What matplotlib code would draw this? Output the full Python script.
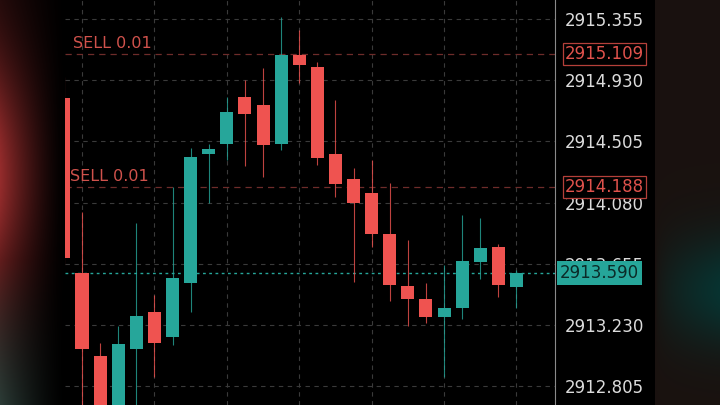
import numpy as np
import matplotlib
matplotlib.use("Agg")
import matplotlib.pyplot as plt

# candle data (index -1 is the one cut by the left edge)
idx = np.arange(-1, 25)
opens = [2914.806, 2913.591, 2913.015, 2912.650, 2913.063, 2913.320, 2913.147, 2913.522,
         2914.417, 2914.487, 2914.813, 2914.758, 2914.487, 2915.105, 2915.022, 2914.417,
         2914.244, 2914.147, 2913.862, 2913.501, 2913.411, 2913.286, 2913.348, 2913.667,
         2913.772, 2913.494]
closes = [2913.695, 2913.063, 2912.650, 2913.098, 2913.293, 2913.105, 2913.556, 2914.397,
          2914.452, 2914.709, 2914.695, 2914.480, 2915.105, 2915.036, 2914.390, 2914.209,
          2914.077, 2913.862, 2913.508, 2913.411, 2913.286, 2913.348, 2913.674, 2913.765,
          2913.508, 2913.591]
highs = [2914.950, 2914.015, 2913.105, 2913.223, 2913.938, 2913.438, 2914.188, 2914.459,
         2914.487, 2914.813, 2914.931, 2915.015, 2915.369, 2915.279, 2915.056, 2914.792,
         2914.320, 2914.376, 2914.216, 2913.820, 2913.522, 2913.647, 2913.994, 2913.973,
         2913.790, 2913.612]
lows = [2913.647, 2912.600, 2912.600, 2912.600, 2912.620, 2912.869, 2913.090, 2913.320,
        2914.077, 2914.376, 2914.334, 2914.258, 2914.445, 2914.911, 2914.341, 2914.119,
        2913.529, 2913.772, 2913.397, 2913.223, 2913.244, 2912.869, 2913.272, 2913.549,
        2913.424, 2913.348]

tick_prices = [2915.355, 2914.930, 2914.505, 2914.080, 2913.655, 2913.230, 2912.805]
sell_prices = [2915.109, 2914.188]
sell_label = "SELL 0.01"
last_price = 2913.590

GREEN = '#26a69a'
RED = '#ef5350'

W, H = 720, 405
fig = plt.figure(figsize=(W / 100, H / 100), dpi=100, facecolor='black')

# background: blurred phone frame left and right
bg = fig.add_axes([0, 0, 1, 1])
bg.set_axis_off()
xx, yy = np.meshgrid(np.arange(W), np.arange(H))
img = np.zeros((H, W, 3))
# left red glow
fade = np.clip(1 - xx / 65.0, 0, 1) ** 1.4
glow = np.exp(-((yy - 175) / 115.0) ** 2)
img[..., 0] += fade * (0.10 + 0.48 * glow)
img[..., 1] += fade * (0.03 + 0.14 * glow)
img[..., 2] += fade * (0.03 + 0.14 * glow)
gray = fade * np.clip((yy - 260) / 145.0, 0, 1)
img[..., 0] += gray * 0.06
img[..., 1] += gray * 0.20
img[..., 2] += gray * 0.18
# right dark teal glow
right = (xx >= 655).astype(float)
rfade = np.clip((xx - 655) / 65.0, 0, 1) ** 0.6
tglow = np.exp(-((yy - 290) / 55.0) ** 2) * rfade
img[..., 0] += right * (0.10 * (1 - tglow) + 0.03 * tglow)
img[..., 1] += right * (0.07 * (1 - tglow) + 0.20 * tglow)
img[..., 2] += right * (0.06 * (1 - tglow) + 0.19 * tglow)
img[:, 65:655] = 0
bg.imshow(np.clip(img, 0, 1), extent=[0, W, H, 0], aspect='auto')
bg.set_xlim(0, W)
bg.set_ylim(H, 0)

# main chart
ax = fig.add_axes([65 / W, 0, 490 / W, 1])
ax.set_facecolor('black')
ax.set_xlim(-0.94, 26.13)
ax.set_ylim(2912.674, 2915.487)

for p in tick_prices:
    ax.axhline(p, color='#3a3a3a', lw=0.8, dashes=(4, 4), zorder=0)
for i in range(0, 25, 4):
    ax.axvline(i, color='#3a3a3a', lw=0.8, dashes=(4, 4), zorder=0)

for i, o, c, h, l in zip(idx, opens, closes, highs, lows):
    col = GREEN if c >= o else RED
    ax.vlines(i, l, h, color=col, lw=0.8, alpha=0.8, zorder=2)
    ax.bar(i, c - o, bottom=o, width=0.72, color=col, zorder=3)

# sell order lines
for p, xoff in zip(sell_prices, [-0.5, -0.66]):
    ax.axhline(p, color='#6e2c2a', lw=0.9, dashes=(5, 4), zorder=1)
    ax.text(xoff, p + 0.075, sell_label, color='#d0524c', fontsize=11.5,
            ha='left', va='center', zorder=4)
    ax.text(1.02, p, f"{p:.3f}", transform=ax.get_yaxis_transform(), color='#e0524c',
            fontsize=12, ha='left', va='center', clip_on=False, zorder=6,
            bbox=dict(boxstyle='square,pad=0.12', fc='black', ec='#b5403a', lw=0.9))

# last price line and tag
ax.axhline(last_price, color=GREEN, lw=1.0, dashes=(2, 2.5), zorder=1)
ax.text(1.01, last_price, f"{last_price:.3f}", transform=ax.get_yaxis_transform(),
        color='#0b2b28', fontsize=12, ha='left', va='center', clip_on=False, zorder=6,
        bbox=dict(boxstyle='square,pad=0.2', fc=GREEN, ec='none'))

ax.yaxis.tick_right()
ax.set_yticks(tick_prices)
ax.set_yticklabels([f"{p:.3f}" for p in tick_prices])
ax.tick_params(axis='y', length=0, pad=7, labelsize=12, labelcolor='#dcdcdc')
ax.tick_params(axis='x', bottom=False, labelbottom=False)
for side in ['top', 'bottom', 'left']:
    ax.spines[side].set_visible(False)
ax.spines['right'].set_color('#8a8a8a')
ax.spines['right'].set_linewidth(0.8)

fig.savefig('out.png', dpi=100, facecolor='black')
